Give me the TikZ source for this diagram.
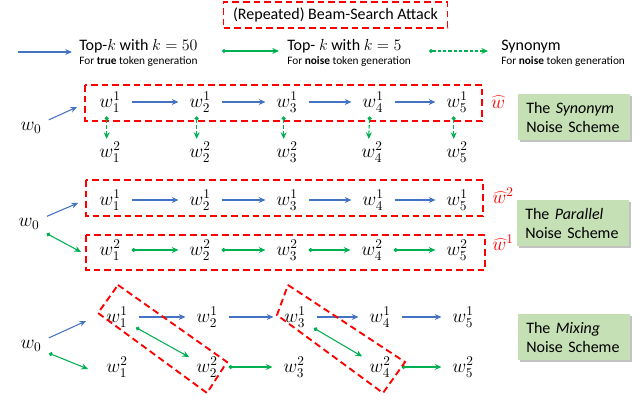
\documentclass[tikz,border=0pt]{standalone}
\usepackage{fontspec}
\setmainfont{Carlito}
\usetikzlibrary{arrows.meta,shadows}
\definecolor{myblue}{HTML}{4472C4}
\definecolor{mygreen}{HTML}{00B050}
\definecolor{boxgreen}{HTML}{C5E0B4}
\begin{document}
\begin{tikzpicture}[x=0.75pt,y=-0.75pt,
  tok/.style={inner sep=0pt, font=\fontsize{14}{16}\selectfont},
  barr/.style={myblue, line width=0.8pt, -{Stealth[length=5pt,width=4.5pt]}},
  garr/.style={mygreen, line width=0.8pt, {Circle[length=3pt]}-{Stealth[length=5pt,width=4.5pt]}},
  gdash/.style={garr, dash pattern=on 2.5pt off 1.5pt},
  tshort/.style={shorten <=8pt, shorten >=8pt},
  redbox/.style={draw=red, line width=1.4pt, dash pattern=on 5pt off 3pt},
  hatlab/.style={red, inner sep=0pt, font=\fontsize{14}{16}\selectfont},
  scheme/.style={fill=boxgreen, anchor=north west, inner xsep=6pt, inner ysep=0pt,
    minimum width=84pt, minimum height=34.5pt, text width=72pt, align=left,
    font=\fontsize{12}{14.25}\selectfont,
    drop shadow={shadow xshift=1.5pt, shadow yshift=-1.5pt, fill=black!40, opacity=0.6}},
  legmain/.style={anchor=base west, inner sep=0pt, font=\fontsize{12}{14}\selectfont},
  legsub/.style={anchor=base west, inner sep=0pt, font=\fontsize{8.5}{10}\selectfont}
]
\useasboundingbox (0,0) rectangle (640,417);

% ---------- title ----------
\node[redbox, minimum width=168pt, minimum height=19.5pt, inner sep=0pt,
  font=\fontsize{12}{14}\selectfont] (title) at (335.5,15) {(Repeated) Beam-Search Attack};

% ---------- legend ----------
\coordinate (l1a) at (18,52); \coordinate (l1b) at (72,52);
\draw[barr] (l1a) -- (l1b);
\node[legmain] (l1t) at (79,51) {Top-$k$ with $k=50$};
\node[legsub] (l1s) at (79,65) {For \textbf{true} token generation};
\coordinate (l2a) at (222,51); \coordinate (l2b) at (279,51);
\draw[garr] (l2a) -- (l2b);
\node[legmain] (l2t) at (287,51) {Top- $k$ with $k=5$};
\node[legsub] (l2s) at (287,65) {For \textbf{noise} token generation};
\coordinate (l3a) at (429,51); \coordinate (l3b) at (488,51);
\draw[gdash] (l3a) -- (l3b);
\node[legmain] (l3t) at (501,51) {Synonym};
\node[legsub] (l3s) at (501,65) {For \textbf{noise} token generation};

% ---------- Synonym scheme ----------
\node[tok] (a0) at (31,128) {$w_0$};
\node[tok] (a11) at (110,102) {$w_1^1$};
\node[tok] (a12) at (200,102) {$w_2^1$};
\node[tok] (a13) at (287,102) {$w_3^1$};
\node[tok] (a14) at (373,102) {$w_4^1$};
\node[tok] (a15) at (457,102) {$w_5^1$};
\node[tok] (a21) at (110,152) {$w_1^2$};
\node[tok] (a22) at (200,152) {$w_2^2$};
\node[tok] (a23) at (287,152) {$w_3^2$};
\node[tok] (a24) at (372,152) {$w_4^2$};
\node[tok] (a25) at (457,152) {$w_5^2$};
\draw[redbox] (85,85) rectangle (482,121);
\coordinate (ain) at (77,107);
\draw[barr, shorten <=6pt] (a0) -- (ain);
\foreach \i/\j in {1/2,2/3,3/4,4/5}{
  \draw[barr, tshort] (a1\i) -- (a1\j);
  }
\foreach \i in {1,...,5}{
  \draw[gdash] ([xshift=-2.5pt,yshift=-3pt]a1\i.south) -- ([xshift=-2.5pt,yshift=2pt]a2\i.north);
  }
\node[hatlab] (ahat) at (498,102) {$\widehat{w}$};
\node[scheme] (s1) at (518,94) {The \textit{Synonym}\\Noise Scheme};

% ---------- Parallel scheme ----------
\node[tok] (b0) at (29,224) {$w_0$};
\node[tok] (b11) at (110,200) {$w_1^1$};
\node[tok] (b12) at (200,200) {$w_2^1$};
\node[tok] (b13) at (287,200) {$w_3^1$};
\node[tok] (b14) at (373,200) {$w_4^1$};
\node[tok] (b15) at (457,200) {$w_5^1$};
\node[tok] (b21) at (110,250) {$w_1^2$};
\node[tok] (b22) at (200,250) {$w_2^2$};
\node[tok] (b23) at (287,250) {$w_3^2$};
\node[tok] (b24) at (372,250) {$w_4^2$};
\node[tok] (b25) at (457,250) {$w_5^2$};
\draw[redbox] (86,180) rectangle (483,216);
\draw[redbox] (86,235) rectangle (485,270);
\coordinate (bin1) at (78,203);
\coordinate (bin2) at (81,252);
\draw[barr, shorten <=6pt] (b0) -- (bin1);
\draw[garr, shorten <=6pt] (b0) -- (bin2);
\foreach \i/\j in {1/2,2/3,3/4,4/5}{
  \draw[barr, tshort] (b1\i) -- (b1\j);
  \draw[garr, tshort] (b2\i) -- (b2\j);
  }
\node[hatlab] (bhat2) at (503,196) {$\widehat{w}^2$};
\node[hatlab] (bhat1) at (503,243) {$\widehat{w}^1$};
\node[scheme] (s2) at (517,200) {The \textit{Parallel}\\Noise Scheme};

% ---------- Mixing scheme ----------
\node[tok] (c0) at (31,346) {$w_0$};
\node[tok] (c11) at (117,317) {$w_1^1$};
\node[tok] (c12) at (207,317) {$w_2^1$};
\node[tok] (c13) at (295,317) {$w_3^1$};
\node[tok] (c14) at (380,317) {$w_4^1$};
\node[tok] (c15) at (463,317) {$w_5^1$};
\node[tok] (c21) at (117,367) {$w_1^2$};
\node[tok] (c22) at (207,367) {$w_2^2$};
\node[tok] (c23) at (294,367) {$w_3^2$};
\node[tok] (c24) at (380,367) {$w_4^2$};
\node[tok] (c25) at (463,367) {$w_5^2$};
\coordinate (cin1) at (86,321);
\coordinate (cin2) at (88,369);
\draw[barr, shorten <=6pt] (c0) -- (cin1);
\draw[garr, shorten <=6pt] (c0) -- (cin2);
\foreach \i/\j in {1/2,2/3,3/4,4/5}{
  \draw[barr, tshort] (c1\i) -- (c1\j);
  }
\draw[garr, tshort] (c22) -- (c23);
\draw[garr, tshort] (c24) -- (c25);
\draw[garr, shorten <=7pt, shorten >=6pt] (c11) -- (c22);
\draw[garr, shorten <=7pt, shorten >=6pt] (c13) -- (c24);
\coordinate (r1a) at (118,285); \coordinate (r1b) at (227,362);
\coordinate (r1c) at (207,393); \coordinate (r1d) at (98,313);
\draw[redbox] (r1a) -- (r1b) -- (r1c) -- (r1d) -- cycle;
\coordinate (r2a) at (288,285); \coordinate (r2b) at (405,362);
\coordinate (r2c) at (383,393); \coordinate (r2d) at (277,315);
\draw[redbox] (r2a) -- (r2b) -- (r2c) -- (r2d) -- cycle;
\node[scheme] (s3) at (518,314) {The \textit{Mixing}\\Noise Scheme};
\end{tikzpicture}
\end{document}
